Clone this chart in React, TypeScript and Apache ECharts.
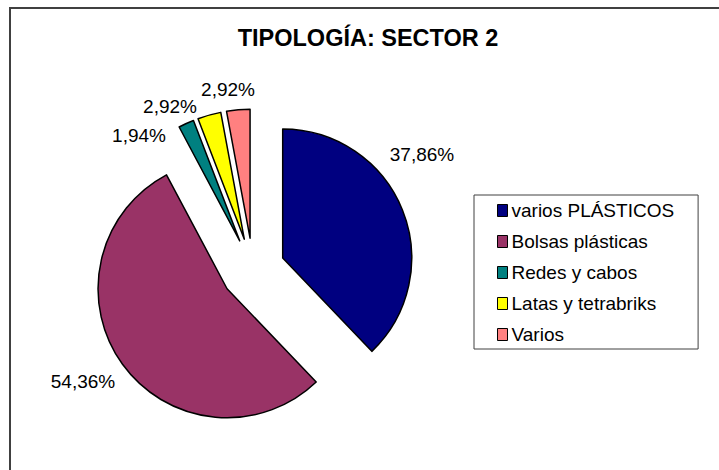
import React, { useEffect, useRef } from "react";
import * as echarts from "echarts";

const categories = [
  "varios PLÁSTICOS",
  "Bolsas plásticas",
  "Redes y cabos",
  "Latas y tetrabriks",
  "Varios",
];
const percentages = [37.86, 54.36, 1.94, 2.92, 2.92];
const colors = ["#000080", "#993366", "#008080", "#FFFF00", "#FF8080"];
const titleText = "TIPOLOGÍA: SECTOR 2";

// label anchor points (layout only)
const labelAnchors = [
  [422, 154],
  [83, 381],
  [139, 135],
  [170, 106],
  [228, 89],
];

const FONT = "'Liberation Sans', Arial, sans-serif";

const fmt = (v: number) => v.toFixed(2).replace(".", ",") + "%";

export default function App() {
  const ref = useRef<HTMLDivElement>(null);

  useEffect(() => {
    if (!ref.current) return;
    const chart = echarts.init(ref.current, undefined, { renderer: "svg" });
    const data = categories.map((name, i) => ({
      name,
      value: percentages[i],
      selected: true,
      itemStyle: { color: colors[i] },
    }));
    const labelTexts = percentages.map((v, i) => ({
      type: "text",
      x: labelAnchors[i][0],
      y: labelAnchors[i][1],
      silent: true,
      style: {
        text: fmt(v),
        fontFamily: FONT,
        fontSize: 19,
        fill: "#000",
        align: "center",
        verticalAlign: "middle",
      },
    }));
    chart.setOption({
      animation: false,
      backgroundColor: "#ffffff",
      title: {
        text: titleText,
        left: 368,
        top: 26,
        padding: 0,
        textAlign: "center",
        textStyle: {
          fontFamily: FONT,
          fontSize: 23.5,
          fontWeight: "bold",
          color: "#000",
          lineHeight: 23.5,
        },
      },
      legend: {
        orient: "vertical",
        left: 474,
        top: 195,
        padding: [6, 24, 5, 23],
        itemWidth: 10,
        itemHeight: 12,
        itemGap: 12,
        icon: "rect",
        borderColor: "#404040",
        borderWidth: 1,
        backgroundColor: "#fff",
        selectedMode: false,
        itemStyle: { borderColor: "#000", borderWidth: 1 },
        textStyle: {
          fontFamily: FONT,
          fontSize: 19,
          lineHeight: 19,
          color: "#000",
          padding: [0, 0, 0, -1],
        },
        data: categories,
      },
      graphic: [
        {
          type: "rect",
          shape: { x: 10, y: 8, width: 730, height: 480 },
          style: { fill: "none", stroke: "#404040", lineWidth: 2 },
          silent: true,
          z: -1,
        },
        ...labelTexts,
      ],
      series: [
        {
          type: "pie",
          center: [253, 270],
          radius: 129,
          startAngle: 90,
          clockwise: true,
          selectedMode: "multiple",
          selectedOffset: 32,
          avoidLabelOverlap: false,
          emphasis: { disabled: true },
          itemStyle: { borderColor: "#000", borderWidth: 1.5 },
          label: { show: false },
          labelLine: { show: false },
          data,
        },
      ],
    });
    return () => chart.dispose();
  }, []);

  return (
    <div
      ref={ref}
      style={{ position: "fixed", left: 0, top: 0, width: 719, height: 470 }}
    />
  );
}
